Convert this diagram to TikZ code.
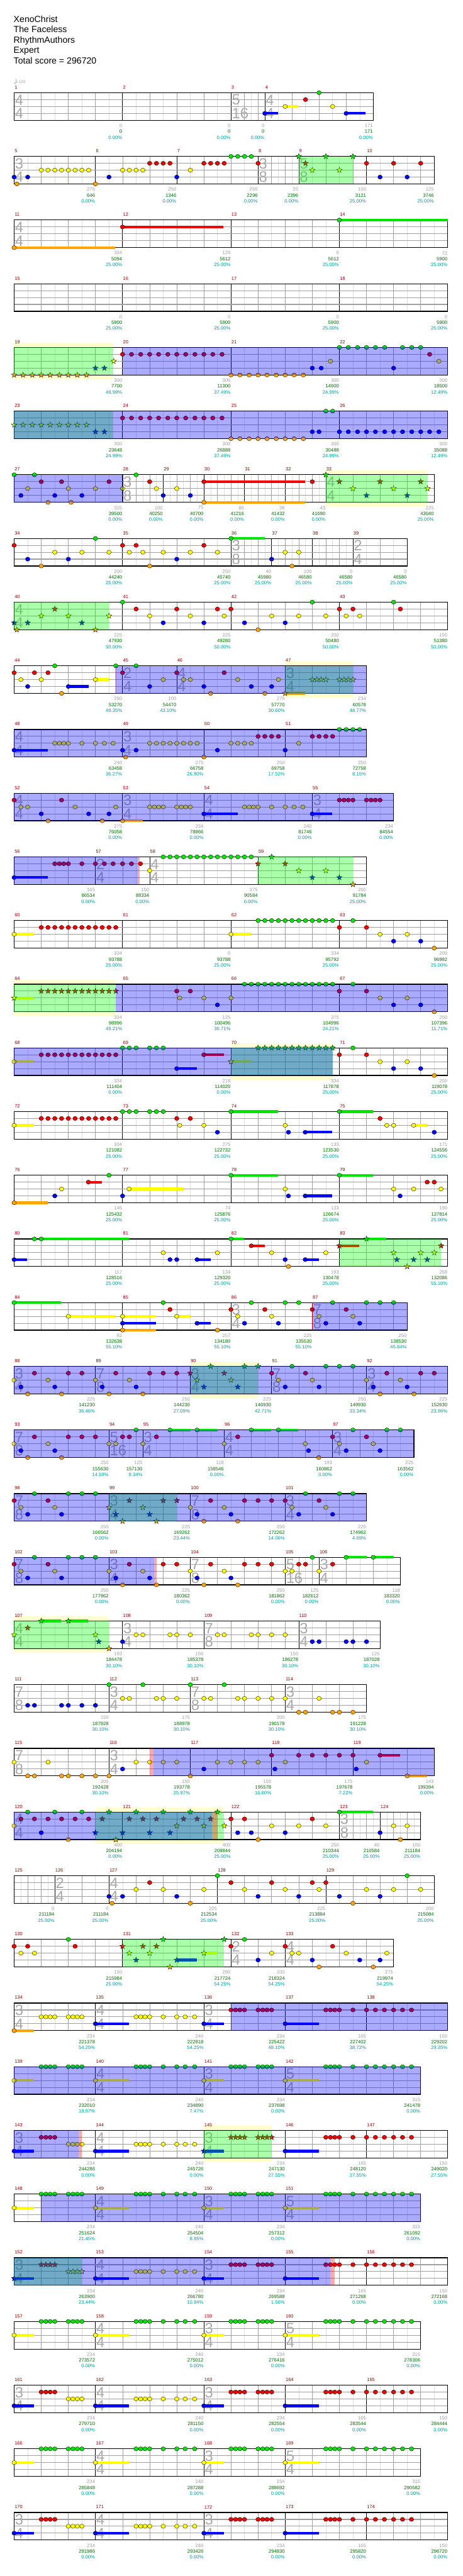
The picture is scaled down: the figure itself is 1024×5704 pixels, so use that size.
\documentclass[tikz,border=0pt]{standalone}
\usepackage{fontspec}
\setmainfont{Liberation Sans}
\definecolor{ng}{RGB}{0,230,0}
\definecolor{nr}{RGB}{240,0,0}
\definecolor{ny}{RGB}{255,255,0}
\definecolor{nb}{RGB}{0,0,255}
\definecolor{no}{RGB}{255,165,0}
\definecolor{spb}{RGB}{0,0,255}
\definecolor{spg}{RGB}{0,255,0}
\definecolor{spr}{RGB}{255,0,0}
\definecolor{hly}{RGB}{255,255,208}
\definecolor{glc}{RGB}{222,222,222}
\definecolor{gdc}{RGB}{160,160,160}
\definecolor{lnc}{RGB}{160,160,160}
\definecolor{tsc}{RGB}{170,170,170}
\definecolor{mnc}{RGB}{140,0,0}
\definecolor{gnc}{RGB}{160,160,160}
\definecolor{snc}{RGB}{0,105,0}
\definecolor{pnc}{RGB}{0,155,155}

\tikzset{
  gridl/.style={draw=glc, line width=0.6pt},
  gridd/.style={draw=gdc, line width=0.6pt},
  barl/.style={draw=black, line width=0.7pt},
  lanel/.style={draw=lnc, line width=1.1pt},
  staffl/.style={draw=black, line width=1.1pt},
  mlab/.style={text=mnc, font=\fontsize{7.4}{8}\selectfont, inner sep=0.6pt},
  tsig/.style={text=tsc, font=\fontsize{23.5}{24}\selectfont, inner sep=0pt},
  gnum/.style={text=gnc, font=\fontsize{7.6}{8}\selectfont, inner sep=0.5pt},
  snum/.style={text=snc, font=\fontsize{7.6}{8}\selectfont, inner sep=0.5pt},
  pnum/.style={text=pnc, font=\fontsize{7.6}{8}\selectfont, inner sep=0.5pt},
  hdr/.style={font=\fontsize{14}{16}\selectfont, inner sep=0pt}
}

% notes, stars, sustains (beat, lane, colour)
\newcommand\nt[3]{\filldraw[fill=#3,draw=black,line width=0.35pt] ({31.3+60*(#1)},{15.25*(#2)}) ellipse [x radius=5,y radius=4.6];}
\newcommand\sr[3]{\filldraw[fill=#3,draw=black,line width=0.35pt] ({31.3+60*(#1)},{15.25*(#2)}) +(270:6.5) -- +(306:2.7) -- +(342:6.5) -- +(18:2.7) -- +(54:6.5) -- +(90:2.7) -- +(126:6.5) -- +(162:2.7) -- +(198:6.5) -- +(234:2.7) -- cycle;}
\newcommand\su[4]{\fill[#4] ({31.3+60*(#1)},{15.25*(#2)-3}) rectangle ({31.3+60*(#3)},{15.25*(#2)+3});}
% staff pieces
\newcommand\stf[1]{\fill[white] (31.3,0) rectangle ({31.3+60*(#1)},61);}
\newcommand\ms[4]{%
  \pgfmathsetmacro\msa{31.3+60*(#1)}%
  \pgfmathtruncatemacro\msn{round(60*(#2)/(#3))}%
  \foreach \k in {1,...,\msn}{\ifnum\k<\msn \ifodd\k \draw[gridl] ({\msa+\k*#3},0) -- ++(0,61); \else \draw[gridd] ({\msa+\k*#3},0) -- ++(0,61); \fi\fi}%
  \draw[barl] (\msa,0) -- ++(0,61);%
  \node[mlab,anchor=west] (m#4) at (\msa,-12) {#4};}
\newcommand\lb[1]{\foreach \l in {1,2,3}{\draw[lanel] (31.3,{15.25*\l}) -- ({31.3+60*(#1)},{15.25*\l});}\draw[staffl] (31.3,0) rectangle ({31.3+60*(#1)},61);}
\newcommand\ts[3]{\node[tsig,anchor=west] at ({33+60*(#1)},16) {#2};\node[tsig,anchor=west] at ({33+60*(#1)},46) {#3};}
\newcommand\nm[4]{\node[gnum,anchor=east] at ({31.3+60*(#1)},73) {#2};\node[snum,anchor=east] at ({31.3+60*(#1)},86) {#3};\node[pnum,anchor=east] at ({31.3+60*(#1)},99) {#4\%};}
\newcommand\ov[3]{\fill[#3,opacity=.333] ({31.3+60*(#1)},0) rectangle ({31.3+60*(#2)},61);}
\newcommand\hl[2]{\fill[hly] ({31.3+60*(#1)},-10) rectangle ({31.3+60*(#2)},71);}
\newcommand\rl[1]{\draw[red!75!black,line width=0.6pt] ({31.3+60*(#1)},0) -- ++(0,61);}
\newcommand\layF[4]{\stf{16}\ms{0}{4}{30}{#1}\ms{4}{4}{30}{#2}\ms{8}{4}{30}{#3}\ms{12}{4}{30}{#4}\lb{16}}
\newcommand\layA[4]{\stf{15}\ms{0}{3}{30}{#1}\ms{3}{4}{30}{#2}\ms{7}{3}{30}{#3}\ms{10}{5}{30}{#4}\lb{15}\ts{3}{4}{4}\ts{7}{3}{4}\ts{10}{5}{4}}
\newcommand\layB[5]{\stf{16}\ms{0}{3}{30}{#1}\ms{3}{4}{30}{#2}\ms{7}{3}{30}{#3}\ms{10}{3}{30}{#4}\ms{13}{3}{30}{#5}\lb{16}\ts{0}{3}{4}\ts{3}{4}{4}\ts{7}{3}{4}}
% repeated riffs
\newcommand\pA[2]{#2{#1}{2}{ny}#2{#1+0.25}{3}{nb}#2{#1+0.5}{4}{no}#2{#1+0.75}{1}{nr}#2{#1+1.25}{2}{ny}#2{#1+1.5}{3}{nb}#2{#1+1.75}{4}{no}#2{#1+2}{1}{nr}#2{#1+2.5}{1}{nr}}
\newcommand\pAx[2]{\pA{#1}{#2}#2{#1+3}{1}{nr}}
\newcommand\pB[2]{#2{#1}{1}{nr}#2{#1+0.25}{2}{ny}#2{#1+0.5}{3}{nb}#2{#1+0.75}{0}{ng}#2{#1+1.25}{1}{nr}#2{#1+1.5}{2}{ny}#2{#1+1.75}{3}{nb}#2{#1+2}{0}{ng}#2{#1+2.5}{0}{ng}}
\newcommand\pBx[2]{\pB{#1}{#2}#2{#1+3}{0}{ng}}
\newcommand\tailA{\nt{12}{1}{nr}\nt{12.5}{0}{ng}\nt{13}{1}{nr}\nt{13.5}{2}{ny}\nt{14}{3}{nb}\nt{14.5}{2}{ny}\nt{15}{3}{nb}\nt{15.5}{4}{no}}
\newcommand\patA{%
  \su{0}{2}{0.73}{ny}\nt{0}{2}{ny}
  \foreach \b in {1,1.17,1.33,1.5,2,2.17,2.33,2.5}{\nt{\b}{0}{ng}}
  \su{3}{2}{4.23}{ny}\nt{3}{2}{ny}
  \foreach \b in {4.5,4.67,4.83,5,5.5,6,6.31,6.66}{\nt{\b}{0}{ng}}
  \su{7}{2}{7.73}{ny}\nt{7}{2}{ny}
  \foreach \b in {8,8.17,8.33,8.5,9,9.17,9.33,9.5}{\nt{\b}{0}{ng}}
  \su{10}{2}{11.24}{ny}\nt{10}{2}{ny}
  \foreach \b in {11.5,11.67,11.83,12,12.5,13,13.33,13.66,14,14.33,14.66}{\nt{\b}{0}{ng}}}
\newcommand\patB[2]{%
  \su{0}{3}{0.73}{nb}#1{0}{3}{nb}
  \foreach \b in {1,1.17,1.33,1.5}{#1{\b}{1}{nr}}
  \foreach \b in {2,2.17,2.33,2.5}{#1{\b}{2}{ny}}
  \su{3}{3}{4.23}{nb}\nt{3}{3}{nb}
  \foreach \b in {4.5,4.67,4.83,5,5.5,6,6.31,6.66}{\nt{\b}{2}{ny}}
  \su{7}{3}{7.73}{nb}#2{7}{3}{nb}
  \foreach \b in {8,8.17,8.33,8.5,9,9.17,9.33,9.5}{#2{\b}{1}{nr}}
  \su{10}{3}{11.24}{nb}\nt{10}{3}{nb}
  \foreach \b in {11.5,11.67,11.83,12,12.5,13,13.33,13.66,14,14.33,14.66}{\nt{\b}{1}{nr}}}

\begin{document}
\begin{tikzpicture}[x=0.25mm,y=-0.25mm]
\useasboundingbox (0,0) rectangle (1024,5704);
\fill[white] (0,0) rectangle (1024,5704);

\node[hdr,anchor=base west] (song) at (30,49.3) {XenoChrist};
\node[hdr,anchor=base west] (artist) at (30,72.2) {The Faceless};
\node[hdr,anchor=base west] (charter) at (30,95.1) {RhythmAuthors};
\node[hdr,anchor=base west] (diff) at (30,118) {Expert};
\node[hdr,anchor=base west] (total) at (30,141) {Total score = 296720};

% row 1-4
\begin{scope}[shift={(0,205.3)}]
\stf{13.25}\ms{0}{4}{30}{1}\ms{4}{4}{30}{2}\ms{8}{1.25}{15}{3}\ms{9.25}{4}{30}{4}\lb{13.25}
\ts{0}{4}{4}\ts{8}{5}{16}\ts{9.25}{4}{4}
\fill[gray!55] (33,-21) ellipse [x radius=2.2,y radius=1.8];
\draw[gray!55] (35,-21) -- (35,-31);
\node[anchor=west,text=gray!70,font=\fontsize{6.5}{7}\selectfont,inner sep=0] (tempo) at (35.5,-24) {=120};
\su{9.25}{3}{9.73}{nb}\nt{9.25}{3}{nb}\su{10}{2}{10.47}{ny}\nt{10}{2}{ny}
\nt{10.75}{1}{nr}\nt{11.25}{0}{ng}\nt{11.75}{2}{ny}\su{12.25}{3}{12.97}{nb}\nt{12.25}{3}{nb}
\nm{4}{0}{0}{0.00}\nm{8}{0}{0}{0.00}\nm{9.25}{0}{0}{0.00}\nm{13.25}{171}{171}{0.00}
\end{scope}

% row 5-10
\begin{scope}[shift={(0,346.3)}]
\stf{15.5}\ms{0}{3}{30}{5}\ms{3}{3}{30}{6}\ms{6}{3}{30}{7}\ms{9}{1.5}{15}{8}\ms{10.5}{2.5}{30}{9}\ms{13}{2.5}{30}{10}\lb{15.5}
\ts{0}{3}{4}\ts{9}{3}{8}\ts{10.5}{5}{8}
\nt{0}{3}{nb}\nt{0.1}{4}{no}\nt{0.5}{3}{nb}
\foreach \b in {1,1.25,1.5,1.75,2,2.25,2.5,2.75}{\nt{\b}{2}{ny}}
\nt{3}{4}{no}\nt{3.5}{3}{nb}
\foreach \b in {4,4.25,4.5,4.75}{\nt{\b}{2}{ny}}
\foreach \b in {5,5.25,5.5,5.75}{\nt{\b}{1}{nr}}
\nt{6}{3}{nb}\nt{6.5}{2}{ny}
\foreach \b in {7,7.25,7.5,7.75}{\nt{\b}{1}{nr}}
\foreach \b in {8,8.25,8.5,8.75}{\nt{\b}{0}{ng}}
\nt{9}{1}{nr}
\sr{10.5}{0}{ng}\sr{10.75}{1}{nr}\sr{11}{2}{ny}\sr{11.5}{0}{ng}\sr{12}{2}{ny}\sr{12.5}{0}{ng}
\nt{13}{1}{nr}\nt{13.5}{3}{nb}\nt{14}{1}{nr}\nt{14.5}{3}{nb}\nt{15}{1}{nr}
\ov{10.5}{12.5}{spg}
\nm{3}{275}{646}{0.00}\nm{6}{250}{1346}{0.00}\nm{9}{250}{2296}{0.00}\nm{10.5}{25}{2396}{0.00}\nm{13}{150}{3121}{25.00}\nm{15.5}{125}{3746}{25.00}
\end{scope}

% row 11-14
\begin{scope}[shift={(0,487.3)}]
\layF{11}{12}{13}{14}\ts{0}{4}{4}
\su{0}{4}{3.73}{no}\nt{0}{4}{no}
\su{4}{1}{7.72}{nr}\nt{4}{1}{nr}\su{12}{0}{16}{ng}\nt{12}{0}{ng}
\nm{4}{334}{5094}{25.00}\nm{8}{129}{5612}{25.00}\nm{12}{0}{5612}{25.00}\nm{16}{72}{5900}{25.00}
\end{scope}

% row 15-18
\begin{scope}[shift={(0,628.3)}]
\layF{15}{16}{17}{18}
\nm{4}{0}{5900}{25.00}\nm{8}{0}{5900}{25.00}\nm{12}{0}{5900}{25.00}\nm{16}{0}{5900}{25.00}
\end{scope}

% row 19-22
\begin{scope}[shift={(0,769.3)}]
\hl{0}{3.65}\layF{19}{20}{21}{22}
\foreach \b in {0,0.33,0.67,1,1.33,1.67,2,2.33,2.67}{\sr{\b}{4}{no}}
\sr{3}{3}{nb}\sr{3.33}{3}{nb}\sr{3.67}{2}{ny}
\foreach \b in {4,4.33,4.67,5,5.33,5.67,6,6.33,6.67,7,7.33,7.67}{\nt{\b}{1}{nr}}
\foreach \b in {8,8.33,8.67,9,9.33,9.67,10,10.33,10.67}{\nt{\b}{4}{no}}
\nt{11}{3}{nb}\nt{11.33}{3}{nb}\nt{11.67}{2}{ny}
\foreach \b in {12,12.33,12.67,13,13.33,13.67}{\nt{\b}{0}{ng}}
\nt{14}{3}{nb}
\foreach \b in {14.33,14.67,15}{\nt{\b}{0}{ng}}
\nt{15.33}{1}{nr}\nt{15.67}{2}{ny}
\ov{0}{3.65}{spg}\ov{4}{16}{spb}
\nm{4}{300}{7700}{49.99}\nm{8}{300}{11300}{37.49}\nm{12}{300}{14900}{24.99}\nm{16}{300}{18500}{12.49}
\end{scope}

% row 23-26
\begin{scope}[shift={(0,910.3)}]
\layF{23}{24}{25}{26}
\foreach \b in {0,0.33,0.67,1,1.33,1.67,2,2.33,2.67}{\sr{\b}{2}{ny}}
\sr{3}{3}{nb}\sr{3.33}{3}{nb}
\foreach \b in {4,4.33,4.67,5,5.33,5.67,6,6.33,6.67,7,7.33,7.67}{\nt{\b}{1}{nr}}
\foreach \b in {8,8.33,8.67,9,9.33,9.67,10,10.33,10.67}{\nt{\b}{4}{no}}
\nt{11}{3}{nb}\nt{11.25}{3}{nb}\nt{11.5}{0}{ng}\nt{11.75}{0}{ng}
\foreach \b in {12,12.33,12.67,13,13.33,13.67,14,14.33,14.67,15,15.33,15.67}{\nt{\b}{3}{nb}}
\ov{0}{3.65}{spg}\ov{0}{16}{spb}
\nm{4}{300}{23648}{24.99}\nm{8}{300}{26888}{37.49}\nm{12}{300}{30488}{24.99}\nm{16}{300}{35088}{12.49}
\end{scope}

% row 27-33
\begin{scope}[shift={(0,1051.3)}]
\hl{11.5}{15.25}
\stf{15.5}\ms{0}{4}{30}{27}\ms{4}{1.5}{15}{28}\ms{5.5}{1.5}{15}{29}\ms{7}{1.5}{15}{30}\ms{8.5}{1.5}{15}{31}\ms{10}{1.5}{15}{32}\ms{11.5}{4}{30}{33}\lb{15.5}
\ts{4}{3}{8}\ts{11.5}{4}{4}
\nt{0}{0}{ng}\nt{0.75}{0}{ng}\nt{0.25}{3}{nb}\nt{0.5}{2}{ny}\nt{1}{1}{nr}\nt{1.25}{4}{no}\nt{1.5}{3}{nb}\nt{1.75}{1}{nr}\nt{2}{2}{ny}\nt{2.1}{4}{no}\nt{2.5}{3}{nb}\nt{3}{2}{ny}\nt{3.5}{1}{nr}\nt{4}{2}{ny}
\nt{4.5}{0}{ng}\nt{5}{1}{nr}\nt{5.25}{2}{ny}\nt{5.5}{3}{nb}\nt{6}{2}{ny}\nt{6.5}{3}{nb}
\su{7}{1}{10.74}{nr}\nt{7}{1}{nr}\su{7}{4}{10.74}{no}\nt{7}{4}{no}
\nt{11}{1}{nr}
\sr{11.5}{0}{ng}\sr{12}{1}{nr}\sr{13.5}{1}{nr}\sr{15}{1}{nr}\sr{12.5}{2}{ny}\sr{14}{2}{ny}\sr{15.25}{2}{ny}\sr{13}{3}{nb}\sr{14.5}{3}{nb}
\ov{11.5}{15.25}{spg}\ov{0}{4}{spb}\rl{4}
\nm{4}{325}{39500}{0.00}\nm{5.5}{100}{40250}{0.00}\nm{7}{75}{40700}{0.00}\nm{8.5}{86}{41216}{0.00}\nm{10}{36}{41432}{0.00}\nm{11.5}{43}{41690}{0.00}\nm{15.5}{225}{43040}{25.00}
\end{scope}

% row 34-39
\begin{scope}[shift={(0,1192.3)}]
\stf{14.5}\ms{0}{4}{30}{34}\ms{4}{4}{30}{35}\ms{8}{1.5}{15}{36}\ms{9.5}{1.5}{15}{37}\ms{11}{1.5}{15}{38}\ms{12.5}{2}{30}{39}\lb{14.5}
\ts{8}{3}{8}\ts{12.5}{2}{4}
\nt{0}{1}{nr}\nt{0.5}{3}{nb}\nt{1}{4}{no}\nt{1.5}{2}{ny}\nt{2}{3}{nb}\nt{2.5}{2}{ny}\nt{3}{0}{ng}\nt{3.5}{2}{ny}\nt{4}{1}{nr}\nt{4.25}{2}{ny}\nt{4.5}{1}{nr}\nt{4.75}{2}{ny}\nt{5}{4}{no}\nt{5.5}{2}{ny}\nt{6}{3}{nb}\nt{6.5}{2}{ny}\nt{7}{1}{nr}\nt{7.5}{2}{ny}
\su{8}{0}{9.24}{ng}\nt{8}{0}{ng}
\nt{9.5}{3}{nb}\nt{10}{2}{ny}\nt{10.25}{4}{no}\nt{10.5}{2}{ny}
\nm{4}{200}{44240}{25.00}\nm{8}{250}{45740}{25.00}\nm{9.5}{40}{45980}{25.00}\nm{11}{100}{46580}{25.00}\nm{12.5}{0}{46580}{25.00}\nm{14.5}{0}{46580}{25.00}
\end{scope}

% row 40-43
\begin{scope}[shift={(0,1333.3)}]
\layF{40}{41}{42}{43}\ts{0}{4}{4}
\sr{0}{3}{nb}\sr{0.5}{3}{nb}\sr{2.5}{3}{nb}\sr{0.1}{4}{no}\sr{3}{4}{no}\sr{1}{2}{ny}\sr{2}{2}{ny}\sr{3.5}{2}{ny}\sr{1.5}{1}{nr}
\nt{4}{0}{ng}\nt{4.5}{1}{nr}\nt{5}{2}{ny}\nt{5.5}{3}{nb}\nt{6}{1}{nr}\nt{6.5}{2}{ny}\nt{7}{3}{nb}\nt{7.5}{1}{nr}\nt{7.75}{2}{ny}\nt{8}{1}{nr}\nt{8.5}{3}{nb}\nt{9}{4}{no}\nt{9.5}{2}{ny}\nt{10}{3}{nb}\nt{10.5}{2}{ny}\nt{11}{0}{ng}\nt{11.5}{2}{ny}\nt{12}{1}{nr}\nt{12.25}{2}{ny}\nt{12.5}{1}{nr}\nt{12.75}{2}{ny}\nt{14}{0}{ng}\nt{14.25}{1}{nr}
\ov{0}{3.5}{spg}
\nm{4}{225}{47930}{50.00}\nm{8}{225}{49280}{50.00}\nm{12}{200}{50480}{50.00}\nm{16}{150}{51380}{50.00}
\end{scope}

% row 44-47
\begin{scope}[shift={(0,1474.3)}]
\hl{10}{12.5}
\stf{13}\ms{0}{4}{30}{44}\ms{4}{2}{30}{45}\ms{6}{4}{30}{46}\ms{10}{3}{30}{47}\lb{13}
\ts{4}{2}{4}\ts{6}{4}{4}\ts{10}{3}{4}
\nt{0}{1}{nr}\nt{0.25}{2}{ny}\nt{0.5}{3}{nb}\nt{0.75}{1}{nr}\nt{1}{2}{ny}\nt{1.25}{1}{nr}\nt{1.5}{0}{ng}\nt{1.75}{4}{no}
\su{2}{3}{2.74}{nb}\nt{2}{3}{nb}\su{3}{2}{3.5}{ny}\nt{3}{2}{ny}
\nt{3.75}{0}{ng}\nt{4}{1}{nr}\nt{4.5}{0}{ng}\nt{5}{3}{nb}\nt{5.5}{2}{ny}\nt{6}{1}{nr}\nt{6.25}{2}{ny}\nt{6.5}{2}{ny}\nt{7}{3}{nb}\nt{7.25}{4}{no}\nt{7.75}{1}{nr}\nt{8.25}{2}{ny}\nt{8.75}{3}{nb}\nt{9.25}{4}{no}\nt{9.5}{3}{nb}\nt{9.75}{2}{ny}
\su{10}{4}{10.74}{no}\sr{10}{4}{no}
\foreach \b in {11,11.17,11.33,11.5,12,12.17,12.33,12.5}{\sr{\b}{2}{ny}}
\ov{10}{12.5}{spg}\ov{3.72}{3.78}{spr}\ov{3.75}{13}{spb}
\nm{4}{290}{53270}{49.35}\nm{6}{100}{54470}{43.10}\nm{10}{275}{57770}{30.60}\nm{13}{234}{60578}{48.77}
\end{scope}

% row 48-51
\begin{scope}[shift={(0,1615.3)}]
\stf{13}\ms{0}{4}{30}{48}\ms{4}{3}{30}{49}\ms{7}{3}{30}{50}\ms{10}{3}{30}{51}\lb{13}
\ts{0}{4}{4}\ts{4}{3}{4}
\su{0}{3}{1.24}{nb}\nt{0}{3}{nb}
\foreach \b in {1.5,1.67,1.83,2,2.5,3,3.33,3.65}{\nt{\b}{2}{ny}}
\nt{4}{3}{nb}\nt{4.11}{4}{no}\nt{4.5}{3}{nb}
\foreach \b in {5,5.25,5.5,5.75,6,6.25,6.5,6.75}{\nt{\b}{2}{ny}}
\nt{7}{4}{no}\nt{7.5}{3}{nb}
\foreach \b in {8,8.25,8.5,8.75}{\nt{\b}{2}{ny}}
\foreach \b in {9,9.25,9.5,9.75}{\nt{\b}{1}{nr}}
\nt{10}{3}{nb}\nt{10.5}{2}{ny}
\foreach \b in {11,11.25,11.5,11.75}{\nt{\b}{1}{nr}}
\foreach \b in {12,12.25,12.5,12.75}{\nt{\b}{0}{ng}}
\ov{0}{13}{spb}
\nm{4}{240}{63458}{36.27}\nm{7}{275}{66758}{26.90}\nm{10}{250}{69758}{17.52}\nm{13}{250}{72758}{8.15}
\end{scope}

% row 52-55
\begin{scope}[shift={(0,1756.3)}]
\stf{14}\ms{0}{4}{30}{52}\ms{4}{3}{30}{53}\ms{7}{4}{30}{54}\ms{11}{3}{30}{55}\lb{14}
\ts{0}{4}{4}\ts{4}{3}{4}\ts{7}{4}{4}\ts{11}{3}{4}
\nt{0}{1}{nr}\nt{0.25}{2}{ny}\nt{0.5}{2}{ny}\nt{1}{3}{nb}\nt{1.25}{4}{no}\nt{1.75}{1}{nr}\nt{2.25}{2}{ny}\nt{2.75}{3}{nb}\nt{3.25}{4}{no}\nt{3.5}{3}{nb}\nt{3.75}{2}{ny}
\su{4}{4}{4.75}{no}\nt{4}{4}{no}
\foreach \b in {5,5.17,5.33,5.5,6,6.17,6.33,6.5}{\nt{\b}{2}{ny}}
\su{7}{3}{8.24}{nb}\nt{7}{3}{nb}
\foreach \b in {8.5,8.67,8.83,9,9.5,10,10.33,10.65}{\nt{\b}{2}{ny}}
\su{11}{3}{11.74}{nb}\nt{11}{3}{nb}
\foreach \b in {12,12.17,12.33,12.5,13,13.17,13.33,13.5}{\nt{\b}{1}{nr}}
\ov{0}{14}{spb}
\nm{4}{275}{76058}{0.00}\nm{7}{234}{78866}{0.00}\nm{11}{240}{81746}{0.00}\nm{14}{234}{84554}{0.00}
\end{scope}

% row 56-59
\begin{scope}[shift={(0,1897.3)}]
\stf{13}\ms{0}{3}{30}{56}\ms{3}{2}{30}{57}\ms{5}{4}{30}{58}\ms{9}{4}{30}{59}\lb{13}
\ts{3}{2}{4}\ts{5}{4}{4}
\su{0}{3}{1.24}{nb}\nt{0}{3}{nb}
\foreach \b in {1.5,1.67,1.83,2,2.5,3,3.33,3.65,4,4.33,4.66}{\nt{\b}{1}{nr}}
\nt{5}{2}{ny}
\foreach \b in {5.5,5.75,6,6.25,6.5,6.75,7,7.25,7.5,7.75,8,8.25,8.5,8.75}{\nt{\b}{0}{ng}}
\sr{9}{1}{nr}\sr{9.5}{0}{ng}\sr{10}{1}{nr}\sr{10.5}{2}{ny}\sr{11}{3}{nb}\sr{11.5}{2}{ny}\sr{12}{3}{nb}\sr{12.5}{4}{no}
\ov{9}{12.5}{spg}\ov{0}{4.57}{spb}\ov{4.57}{4.64}{spr}
\nm{3}{165}{86534}{0.00}\nm{5}{150}{88334}{0.00}\nm{9}{375}{90584}{0.00}\nm{13}{200}{91784}{25.00}
\end{scope}

% row 60-63
\begin{scope}[shift={(0,2038.3)}]
\layF{60}{61}{62}{63}
\su{0}{2}{0.73}{ny}\nt{0}{2}{ny}
\foreach \b in {1,1.25,1.5,1.75,2,2.25,2.5,2.75,3,3.25,3.5,3.75}{\nt{\b}{1}{nr}}
\su{8}{2}{8.73}{ny}\nt{8}{2}{ny}
\foreach \b in {9,9.25,9.5,9.75,10,10.25,10.5,10.75,11,11.25,11.5,11.75}{\nt{\b}{0}{ng}}
\tailA
\nm{4}{334}{93788}{25.00}\nm{8}{0}{93788}{25.00}\nm{12}{334}{95792}{25.00}\nm{16}{200}{96992}{25.00}
\end{scope}

% row 64-67
\begin{scope}[shift={(0,2179.3)}]
\hl{0}{3.75}\layF{64}{65}{66}{67}
\su{0}{2}{0.73}{ny}\sr{0}{2}{ny}
\foreach \b in {1,1.25,1.5,1.75,2,2.25,2.5,2.75,3,3.25,3.5,3.75}{\sr{\b}{1}{nr}}
\nt{6}{1}{nr}\nt{6.5}{1}{nr}\nt{6.11}{2}{ny}\nt{7}{2}{ny}\nt{7.5}{3}{nb}\nt{8}{2}{ny}
\foreach \b in {8.5,8.75,9,9.25,9.5,9.75,10,10.25,10.5,10.75,11,11.25,11.5,11.75}{\nt{\b}{0}{ng}}
\tailA
\ov{0}{3.75}{spg}\ov{3.75}{16}{spb}
\nm{4}{334}{98996}{49.21}\nm{8}{125}{100496}{36.71}\nm{12}{375}{104996}{24.21}\nm{16}{200}{107396}{11.71}
\end{scope}

% row 68-71
\begin{scope}[shift={(0,2320.3)}]
\hl{8}{11.75}\layF{68}{69}{70}{71}
\su{0}{2}{0.73}{ny}\nt{0}{2}{ny}
\foreach \b in {1,1.25,1.5,1.75,2,2.25,2.5,2.75,3,3.25,3.5,3.75}{\nt{\b}{1}{nr}}
\foreach \b in {4,4.25,4.5,5,5.25,5.5}{\nt{\b}{0}{ng}}
\su{6}{3}{6.74}{nb}\nt{6}{3}{nb}\su{7}{1}{7.73}{nr}\nt{7}{1}{nr}
\su{8}{2}{8.73}{ny}\sr{8}{2}{ny}
\foreach \b in {9,9.25,9.5,9.75,10,10.25,10.5,10.75,11,11.25,11.5,11.75}{\sr{\b}{0}{ng}}
\tailA
\ov{8}{11.75}{spg}\ov{0}{11.75}{spb}
\nm{4}{334}{111404}{0.00}\nm{8}{218}{114020}{0.00}\nm{12}{334}{117878}{25.00}\nm{16}{200}{119078}{25.00}
\end{scope}

% row 72-75
\begin{scope}[shift={(0,2461.3)}]
\layF{72}{73}{74}{75}
\su{0}{2}{0.73}{ny}\nt{0}{2}{ny}
\foreach \b in {1,1.25,1.5,1.75,2,2.25,2.5,2.75,3,3.25,3.5,3.75}{\nt{\b}{1}{nr}}
\foreach \b in {4,4.25,4.5,5,5.25,5.5}{\nt{\b}{0}{ng}}
\nt{6}{1}{nr}\nt{6.5}{1}{nr}\nt{6.11}{2}{ny}\nt{7}{2}{ny}\nt{7.5}{3}{nb}
\su{8}{0}{9.73}{ng}\nt{8}{0}{ng}
\nt{10}{2}{ny}\nt{10.12}{3}{nb}\su{10.74}{3}{11.74}{nb}\nt{10.74}{3}{nb}
\su{12}{0}{13.24}{ng}\nt{12}{0}{ng}
\nt{13.5}{1}{nr}\nt{13.75}{2}{ny}\nt{14}{2}{ny}\su{14.74}{2}{15.23}{ny}\nt{14.74}{2}{ny}\nt{15.5}{3}{nb}
\nm{4}{334}{121082}{25.00}\nm{8}{275}{122732}{25.00}\nm{12}{133}{123530}{25.00}\nm{16}{171}{124556}{25.00}
\end{scope}

% row 76-79
\begin{scope}[shift={(0,2602.3)}]
\layF{76}{77}{78}{79}
\su{0}{4}{1.24}{no}\nt{0}{4}{no}
\nt{1.5}{3}{nb}\nt{1.75}{2}{ny}\su{2.74}{1}{3.23}{nr}\nt{2.74}{1}{nr}
\nt{3.5}{0}{ng}\nt{4}{3}{nb}\su{4.24}{2}{6.24}{ny}\nt{4.24}{2}{ny}
\su{8}{0}{9.73}{ng}\nt{8}{0}{ng}
\nt{10}{2}{ny}\nt{10.12}{3}{nb}\su{10.74}{3}{11.74}{nb}\nt{10.74}{3}{nb}
\su{12}{0}{13.24}{ng}\nt{12}{0}{ng}
\nt{14}{2}{ny}\nt{14.24}{3}{nb}\nt{14.74}{2}{ny}\nt{15.24}{1}{nr}\nt{15.5}{1}{nr}\nt{15.75}{2}{ny}
\nm{4}{146}{125432}{25.00}\nm{8}{74}{125876}{25.00}\nm{12}{133}{126674}{25.00}\nm{16}{190}{127814}{25.00}
\end{scope}

% row 80-83
\begin{scope}[shift={(0,2743.3)}]
\layF{80}{81}{82}{83}
\su{0}{3}{0.48}{nb}\nt{0}{3}{nb}
\nt{0.75}{0}{ng}\su{1}{0}{4.23}{ng}\nt{1}{0}{ng}
\nt{5.5}{2}{ny}\nt{5.75}{3}{nb}\nt{6}{3}{nb}\su{6.75}{3}{7.25}{nb}\nt{6.75}{3}{nb}\nt{7.5}{2}{ny}
\su{8}{0}{8.49}{ng}\nt{8}{0}{ng}\su{8.75}{1}{9.24}{nr}\nt{8.75}{1}{nr}
\nt{9.5}{2}{ny}\nt{10}{3}{nb}\nt{10.12}{4}{no}\su{10.74}{3}{11.24}{nb}\nt{10.74}{3}{nb}\nt{11.5}{2}{ny}
\su{12}{1}{12.74}{nr}\sr{12}{1}{nr}\su{13}{0}{13.74}{ng}\sr{13}{0}{ng}
\sr{14}{2}{ny}\sr{14.12}{3}{nb}\sr{14.5}{4}{no}\sr{14.74}{3}{nb}\sr{15}{2}{ny}\sr{15.24}{3}{nb}\sr{15.5}{2}{ny}\sr{15.75}{1}{nr}
\ov{12}{15.75}{spg}
\nm{4}{117}{128516}{25.00}\nm{8}{134}{129320}{25.00}\nm{12}{193}{130478}{25.00}\nm{16}{268}{132086}{55.10}
\end{scope}

% row 84-87
\begin{scope}[shift={(0,2884.3)}]
\stf{14.5}\ms{0}{4}{30}{84}\ms{4}{4}{30}{85}\ms{8}{3}{30}{86}\ms{11}{3.5}{30}{87}\lb{14.5}
\ts{8}{3}{4}\ts{11}{7}{8}
\su{0}{0}{1.73}{ng}\nt{0}{0}{ng}\su{2}{2}{3.73}{ny}\nt{2}{2}{ny}
\su{4}{2}{5.24}{ny}\su{4}{3}{5.24}{nb}\su{4}{4}{5.24}{no}\nt{4}{2}{ny}\nt{4}{3}{nb}\nt{4}{4}{no}
\nt{5.5}{0}{ng}\nt{5.75}{1}{nr}\su{6}{2}{6.5}{ny}\nt{6}{2}{ny}\su{6.75}{3}{7.25}{nb}\nt{6.75}{3}{nb}\nt{7.5}{4}{no}
\nt{8}{1}{nr}\nt{8.25}{2}{ny}\nt{8.5}{3}{nb}\nt{8.75}{0}{ng}\nt{9.25}{1}{nr}\nt{9.5}{2}{ny}\nt{9.75}{3}{nb}\nt{10}{0}{ng}\nt{10.5}{0}{ng}
\nt{11}{1}{nr}\nt{11.25}{2}{ny}\nt{11.5}{3}{nb}\nt{11.75}{0}{ng}\nt{12.25}{1}{nr}\nt{12.5}{2}{ny}\nt{12.75}{3}{nb}\nt{13}{0}{ng}\nt{13.5}{0}{ng}\nt{14}{0}{ng}
\ov{11}{14.5}{spb}\rl{11}
\nm{4}{92}{132638}{55.10}\nm{8}{257}{134180}{55.10}\nm{11}{225}{135530}{55.10}\nm{14.5}{250}{138530}{45.84}
\end{scope}

% row 88-92
\begin{scope}[shift={(0,3025.3)}]
\hl{6.5}{9}
\stf{16}\ms{0}{3}{30}{88}\ms{3}{3.5}{30}{89}\ms{6.5}{3}{30}{90}\ms{9.5}{3.5}{30}{91}\ms{13}{3}{30}{92}\lb{16}
\ts{0}{3}{4}\ts{3}{7}{8}\ts{6.5}{3}{4}\ts{9.5}{7}{8}\ts{13}{3}{4}
\pA{0}{\nt}\pAx{3}{\nt}\pB{6.5}{\sr}\pBx{9.5}{\nt}\pA{13}{\nt}
\ov{6.5}{9}{spg}\ov{0}{16}{spb}
\nm{3}{225}{141230}{36.46}\nm{6.5}{250}{144230}{27.09}\nm{9.5}{225}{146930}{42.71}\nm{13}{250}{149930}{33.34}\nm{16}{225}{152630}{23.96}
\end{scope}

% row 93-97
\begin{scope}[shift={(0,3166.3)}]
\stf{14.75}\ms{0}{3.5}{30}{93}\ms{3.5}{1.25}{15}{94}\ms{4.75}{3}{30}{95}\ms{7.75}{4}{30}{96}\ms{11.75}{3}{30}{97}\lb{14.75}
\ts{0}{7}{8}\ts{3.5}{5}{16}\ts{4.75}{3}{4}\ts{7.75}{4}{4}\ts{11.75}{3}{4}
\pAx{0}{\nt}
\nt{3.5}{2}{ny}\nt{3.75}{2}{ny}\nt{4}{1}{nr}\nt{4.25}{1}{nr}\nt{4.5}{0}{ng}\nt{4.75}{2}{ny}\nt{5.25}{1}{nr}
\su{5.75}{0}{6.5}{ng}\nt{5.75}{0}{ng}\su{6.75}{0}{7.5}{ng}\nt{6.75}{0}{ng}
\nt{7.75}{2}{ny}\nt{8.25}{1}{nr}
\su{8.75}{0}{9.49}{ng}\nt{8.75}{0}{ng}\su{9.75}{0}{10.49}{ng}\nt{9.75}{0}{ng}
\nt{10.74}{2}{ny}\nt{10.86}{3}{nb}\nt{11.24}{4}{no}
\pB{11.75}{\nt}
\ov{0}{14.75}{spb}
\nm{3.5}{250}{155630}{14.59}\nm{4.75}{125}{157130}{8.34}\nm{7.75}{118}{158546}{0.00}\nm{11.75}{193}{160862}{0.00}\nm{14.75}{225}{163562}{0.00}
\end{scope}

% row 98-101
\begin{scope}[shift={(0,3307.3)}]
\stf{13}\ms{0}{3.5}{30}{98}\ms{3.5}{3}{30}{99}\ms{6.5}{3.5}{30}{100}\ms{10}{3}{30}{101}\lb{13}
\ts{0}{7}{8}\ts{3.5}{3}{4}\ts{6.5}{7}{8}\ts{10}{3}{4}
\pBx{0}{\nt}\pA{3.5}{\sr}\pAx{6.5}{\nt}\pB{10}{\nt}
\ov{3.5}{6}{spg}\ov{0}{13}{spb}
\nm{3.5}{250}{166562}{0.00}\nm{6.5}{225}{169262}{23.44}\nm{10}{250}{172262}{14.06}\nm{13}{225}{174962}{4.69}
\end{scope}

% row 102-106
\begin{scope}[shift={(0,3448.3)}]
\stf{14.25}\ms{0}{3.5}{30}{102}\ms{3.5}{3}{30}{103}\ms{6.5}{3.5}{30}{104}\ms{10}{1.25}{15}{105}\ms{11.25}{3}{30}{106}\lb{14.25}
\ts{0}{7}{8}\ts{3.5}{3}{4}\ts{6.5}{7}{8}\ts{10}{5}{16}\ts{11.25}{3}{4}
\pBx{0}{\nt}\pA{3.5}{\nt}\pAx{6.5}{\nt}
\nt{10}{2}{ny}\nt{10.25}{2}{ny}\nt{10.5}{1}{nr}\nt{10.75}{1}{nr}\nt{11}{0}{ng}\nt{11.25}{2}{ny}\nt{11.75}{1}{nr}
\su{12.25}{0}{13}{ng}\nt{12.25}{0}{ng}\su{13.25}{0}{14}{ng}\nt{13.25}{0}{ng}
\ov{0}{5.16}{spb}\ov{5.16}{5.25}{spr}
\nm{3.5}{250}{177962}{0.00}\nm{6.5}{225}{180362}{0.00}\nm{10}{250}{181862}{0.00}\nm{11.25}{125}{182612}{0.00}\nm{14.25}{118}{183320}{0.00}
\end{scope}

% row 107-110
\begin{scope}[shift={(0,3589.3)}]
\hl{0}{3.5}
\stf{13.5}\ms{0}{4}{30}{107}\ms{4}{3}{30}{108}\ms{7}{3.5}{30}{109}\ms{10.5}{3}{30}{110}\lb{13.5}
\ts{0}{4}{4}\ts{4}{3}{4}\ts{7}{7}{8}\ts{10.5}{3}{4}
\sr{0}{2}{ny}\sr{0.5}{1}{nr}\su{1}{0}{1.73}{ng}\sr{1}{0}{ng}\su{2}{0}{2.73}{ng}\sr{2}{0}{ng}
\sr{3}{2}{ny}\sr{3.12}{3}{nb}\sr{3.5}{4}{no}
\nt{4}{3}{nb}
\foreach \b in {4.5,4.75,5.75,6,6.5,7.5,7.75,8.75,9,9.5,10}{\nt{\b}{2}{ny}}
\foreach \b in {11,11.25,12.25,12.5,13}{\nt{\b}{3}{nb}}
\ov{0}{3.5}{spg}
\nm{4}{193}{184478}{30.10}\nm{7}{150}{185378}{30.10}\nm{10.5}{150}{186278}{30.10}\nm{13.5}{125}{187028}{30.10}
\end{scope}

% row 111-114
\begin{scope}[shift={(0,3730.3)}]
\stf{13}\ms{0}{3.5}{30}{111}\ms{3.5}{3}{30}{112}\ms{6.5}{3.5}{30}{113}\ms{10}{3}{30}{114}\lb{13}
\ts{0}{7}{8}\ts{3.5}{3}{4}\ts{6.5}{7}{8}\ts{10}{3}{4}
\foreach \b in {0.5,0.75,1.75,2,2.5,3}{\nt{\b}{3}{nb}}
\nt{3.5}{0}{ng}\nt{4}{2}{ny}\nt{4.25}{2}{ny}\nt{4.75}{0}{ng}\nt{5.25}{2}{ny}\nt{5.5}{2}{ny}\nt{6}{2}{ny}
\nt{6.5}{0}{ng}\nt{7}{2}{ny}\nt{7.25}{2}{ny}\nt{7.75}{0}{ng}
\foreach \b in {8.25,8.5,9,9.5,10}{\nt{\b}{2}{ny}}
\nt{10.5}{4}{no}\nt{10.75}{4}{no}\nt{11.25}{2}{ny}\nt{11.75}{4}{no}\nt{12}{4}{no}\nt{12.5}{4}{no}
\nm{3.5}{150}{187928}{30.10}\nm{6.5}{175}{188978}{30.10}\nm{10}{200}{190178}{30.10}\nm{13}{175}{191228}{30.10}
\end{scope}

% row 115-119
\begin{scope}[shift={(0,3871.3)}]
\stf{15.5}\ms{0}{3.5}{30}{115}\ms{3.5}{3}{30}{116}\ms{6.5}{3}{30}{117}\ms{9.5}{3}{30}{118}\ms{12.5}{3}{30}{119}\lb{15.5}
\ts{0}{7}{8}\ts{3.5}{3}{4}
\nt{0}{2}{ny}\nt{0.5}{4}{no}\nt{0.75}{4}{no}\nt{1.25}{2}{ny}
\foreach \b in {1.75,2,2.5,3,3.5}{\nt{\b}{4}{no}}
\nt{4}{3}{nb}
\foreach \b in {4.5,5,5.5,6}{\nt{\b}{2}{ny}}
\nt{6.5}{4}{no}\nt{7}{3}{nb}
\foreach \b in {7.5,8,8.5,9}{\nt{\b}{2}{ny}}
\nt{9.5}{1}{nr}\nt{9.62}{3}{nb}\nt{10}{2}{ny}
\foreach \b in {10.5,11,11.5,12,12.5}{\nt{\b}{1}{nr}}
\nt{12.62}{3}{nb}\nt{13}{2}{ny}
\su{13.5}{1}{14.24}{nr}\nt{13.5}{1}{nr}\su{14.5}{4}{15.23}{no}\nt{14.5}{4}{no}
\ov{5}{5.14}{spr}\ov{5.14}{15.5}{spb}
\nm{3.5}{200}{192428}{30.10}\nm{6.5}{150}{193778}{25.97}\nm{9.5}{150}{195578}{16.60}\nm{12.5}{175}{197678}{7.22}\nm{15.5}{143}{199394}{0.00}
\end{scope}

% row 120-124
\begin{scope}[shift={(0,4012.3)}]
\hl{3}{7.75}
\stf{15}\ms{0}{4}{30}{120}\ms{4}{4}{30}{121}\ms{8}{4}{30}{122}\ms{12}{1.5}{15}{123}\ms{13.5}{1.5}{15}{124}\lb{15}
\ts{0}{4}{4}\ts{12}{3}{8}
\nt{0}{2}{ny}\nt{0.25}{1}{nr}\nt{0.5}{0}{ng}\nt{0.75}{1}{nr}\nt{1}{3}{nb}\nt{1.25}{1}{nr}\nt{1.5}{0}{ng}\nt{1.75}{1}{nr}\nt{2}{4}{no}\nt{2.25}{1}{nr}\nt{2.5}{0}{ng}\nt{2.75}{1}{nr}
\sr{3}{3}{nb}\sr{3.25}{1}{nr}\sr{3.5}{0}{ng}\sr{3.75}{4}{no}\sr{4}{3}{nb}\sr{4.25}{1}{nr}\sr{4.5}{0}{ng}\sr{4.75}{1}{nr}\sr{5}{3}{nb}\sr{5.25}{1}{nr}\sr{5.5}{0}{ng}\sr{5.75}{3}{nb}\sr{6}{2}{ny}\sr{6.25}{1}{nr}\sr{6.5}{0}{ng}\sr{6.75}{1}{nr}\sr{7}{2}{ny}\sr{7.25}{1}{nr}\sr{7.5}{0}{ng}\sr{7.75}{2}{ny}
\nt{8}{1}{nr}\nt{8.25}{3}{nb}\nt{8.5}{1}{nr}\nt{8.75}{3}{nb}\nt{9}{4}{no}\nt{9.5}{2}{ny}\nt{10}{3}{nb}\nt{10.5}{2}{ny}\nt{11}{1}{nr}\nt{11.5}{2}{ny}
\su{12}{0}{13.24}{ng}\nt{12}{0}{ng}
\nt{13.5}{3}{nb}\nt{14}{2}{ny}\nt{14.25}{4}{no}\nt{14.5}{2}{ny}
\ov{3}{7.75}{spg}\ov{0}{7.29}{spb}\ov{7.29}{7.5}{spr}
\nm{4}{400}{204194}{0.00}\nm{8}{400}{208844}{25.00}\nm{12}{250}{210344}{25.00}\nm{13.5}{40}{210584}{25.00}\nm{15}{100}{211184}{25.00}
\end{scope}

% row 125-129
\begin{scope}[shift={(0,4153.3)}]
\stf{15.5}\ms{0}{1.5}{15}{125}\ms{1.5}{2}{30}{126}\ms{3.5}{4}{30}{127}\ms{7.5}{4}{30}{128}\ms{11.5}{4}{30}{129}\lb{15.5}
\ts{1.5}{2}{4}\ts{3.5}{4}{4}
\nt{3.5}{3}{nb}\nt{3.61}{4}{no}\nt{4}{3}{nb}\nt{4.5}{2}{ny}\nt{5}{1}{nr}\nt{5.5}{2}{ny}\nt{6}{3}{nb}\nt{6.5}{4}{no}\nt{7}{2}{ny}\nt{7.5}{0}{ng}\nt{8}{1}{nr}\nt{8.5}{2}{ny}\nt{9}{3}{nb}\nt{9.5}{1}{nr}\nt{10}{2}{ny}\nt{10.5}{3}{nb}\nt{11}{1}{nr}\nt{11.25}{2}{ny}\nt{11.5}{1}{nr}\nt{12}{3}{nb}\nt{12.5}{4}{no}\nt{13}{2}{ny}\nt{13.5}{3}{nb}\nt{14}{2}{ny}\nt{14.5}{0}{ng}\nt{15}{2}{ny}
\nm{1.5}{0}{211184}{25.00}\nm{3.5}{0}{211184}{25.00}\nm{7.5}{225}{212534}{25.00}\nm{11.5}{225}{213884}{25.00}\nm{15.5}{200}{215084}{25.00}
\end{scope}

% row 130-133
\begin{scope}[shift={(0,4294.3)}]
\stf{14}\ms{0}{4}{30}{130}\ms{4}{4}{30}{131}\ms{8}{2}{30}{132}\ms{10}{4}{30}{133}\lb{14}
\ts{8}{2}{4}\ts{10}{4}{4}
\nt{0}{1}{nr}\nt{0.25}{2}{ny}\nt{0.5}{1}{nr}\nt{0.75}{2}{ny}\nt{2}{0}{ng}\nt{2.25}{1}{nr}
\sr{4}{1}{nr}\sr{4.25}{2}{ny}\sr{4.5}{3}{nb}\sr{4.75}{1}{nr}\sr{5}{2}{ny}\sr{5.25}{1}{nr}\sr{5.5}{0}{ng}\sr{5.75}{4}{no}
\su{6}{3}{6.74}{nb}\sr{6}{3}{nb}\su{7}{2}{7.5}{ny}\sr{7}{2}{ny}\sr{7.75}{0}{ng}
\nt{8}{1}{nr}\nt{8.5}{0}{ng}\nt{9}{3}{nb}\nt{9.5}{2}{ny}\nt{10}{1}{nr}\nt{10.25}{2}{ny}\nt{10.5}{2}{ny}\nt{11}{3}{nb}\nt{11.25}{4}{no}\nt{11.75}{1}{nr}\nt{12.25}{2}{ny}\nt{12.75}{3}{nb}\nt{13.25}{4}{no}\nt{13.5}{3}{nb}\nt{13.75}{2}{ny}
\ov{4}{7.75}{spg}
\nm{4}{150}{215984}{25.00}\nm{8}{290}{217724}{54.25}\nm{10}{100}{218324}{54.25}\nm{14}{275}{219974}{54.25}
\end{scope}

% row 134-138
\begin{scope}[shift={(0,4435.3)}]
\layB{134}{135}{136}{137}{138}
\su{0}{4}{0.73}{no}\nt{0}{4}{no}
\foreach \b in {1,1.17,1.33,1.5,2,2.17,2.33,2.5}{\nt{\b}{2}{ny}}
\su{3}{3}{4.23}{nb}\nt{3}{3}{nb}
\foreach \b in {4.5,4.67,4.83,5,5.5,6,6.31,6.66}{\nt{\b}{2}{ny}}
\su{7}{3}{7.73}{nb}\nt{7}{3}{nb}
\foreach \b in {8,8.17,8.33,8.5,9,9.17,9.33,9.5}{\nt{\b}{1}{nr}}
\su{10}{3}{11.24}{nb}\nt{10}{3}{nb}
\foreach \b in {11.5,11.67,11.83,12,12.5,13,13.33,13.66,14,14.33,14.66}{\nt{\b}{1}{nr}}
\ov{8}{16}{spb}\rl{8}
\nm{3}{234}{221378}{54.25}\nm{7}{240}{222818}{54.25}\nm{10}{234}{225422}{48.10}\nm{13}{165}{227402}{38.72}\nm{16}{150}{229202}{29.35}
\end{scope}

% row 139-142
\begin{scope}[shift={(0,4576.3)}]
\layA{139}{140}{141}{142}\patA
\ov{0}{15}{spb}
\nm{3}{234}{232010}{19.97}\nm{7}{240}{234890}{7.47}\nm{10}{234}{237698}{0.00}\nm{15}{315}{241478}{0.00}
\end{scope}

% row 143-147
\begin{scope}[shift={(0,4717.3)}]
\hl{7}{9.5}\layB{143}{144}{145}{146}{147}\patB{\nt}{\sr}
\ov{7}{9.5}{spg}\ov{0}{2.37}{spb}\ov{2.37}{2.5}{spr}
\nm{3}{234}{244286}{0.00}\nm{7}{240}{245726}{0.00}\nm{10}{234}{247130}{27.55}\nm{13}{165}{248120}{27.55}\nm{16}{150}{249020}{27.55}
\end{scope}

% row 148-151
\begin{scope}[shift={(0,4858.3)}]
\layA{148}{149}{150}{151}\patA
\ov{1}{15}{spb}\rl{1}
\nm{3}{234}{251624}{21.45}\nm{7}{240}{254504}{8.95}\nm{10}{234}{257312}{0.00}\nm{15}{315}{261092}{0.00}
\end{scope}

% row 152-156
\begin{scope}[shift={(0,4999.3)}]
\layB{152}{153}{154}{155}{156}\patB{\sr}{\nt}
\ov{0}{2.5}{spg}\ov{0}{11.67}{spb}\ov{11.67}{11.83}{spr}
\nm{3}{234}{263900}{23.44}\nm{7}{240}{266780}{10.94}\nm{10}{234}{269588}{1.56}\nm{13}{165}{271268}{0.00}\nm{16}{150}{272168}{0.00}
\end{scope}

% row 157-160
\begin{scope}[shift={(0,5140.3)}]
\layA{157}{158}{159}{160}\patA
\nm{3}{234}{273572}{0.00}\nm{7}{240}{275012}{0.00}\nm{10}{234}{276416}{0.00}\nm{15}{315}{278306}{0.00}
\end{scope}

% row 161-165
\begin{scope}[shift={(0,5281.3)}]
\layB{161}{162}{163}{164}{165}\patB{\nt}{\nt}
\nm{3}{234}{279710}{0.00}\nm{7}{240}{281150}{0.00}\nm{10}{234}{282554}{0.00}\nm{13}{165}{283544}{0.00}\nm{16}{150}{284444}{0.00}
\end{scope}

% row 166-169
\begin{scope}[shift={(0,5422.3)}]
\layA{166}{167}{168}{169}\patA
\nm{3}{234}{285848}{0.00}\nm{7}{240}{287288}{0.00}\nm{10}{234}{288692}{0.00}\nm{15}{315}{290582}{0.00}
\end{scope}

% row 170-174
\begin{scope}[shift={(0,5563.3)}]
\layB{170}{171}{172}{173}{174}\patB{\nt}{\nt}
\nm{3}{234}{291986}{0.00}\nm{7}{240}{293426}{0.00}\nm{10}{234}{294830}{0.00}\nm{13}{165}{295820}{0.00}\nm{16}{150}{296720}{0.00}
\end{scope}

\end{tikzpicture}
\end{document}
